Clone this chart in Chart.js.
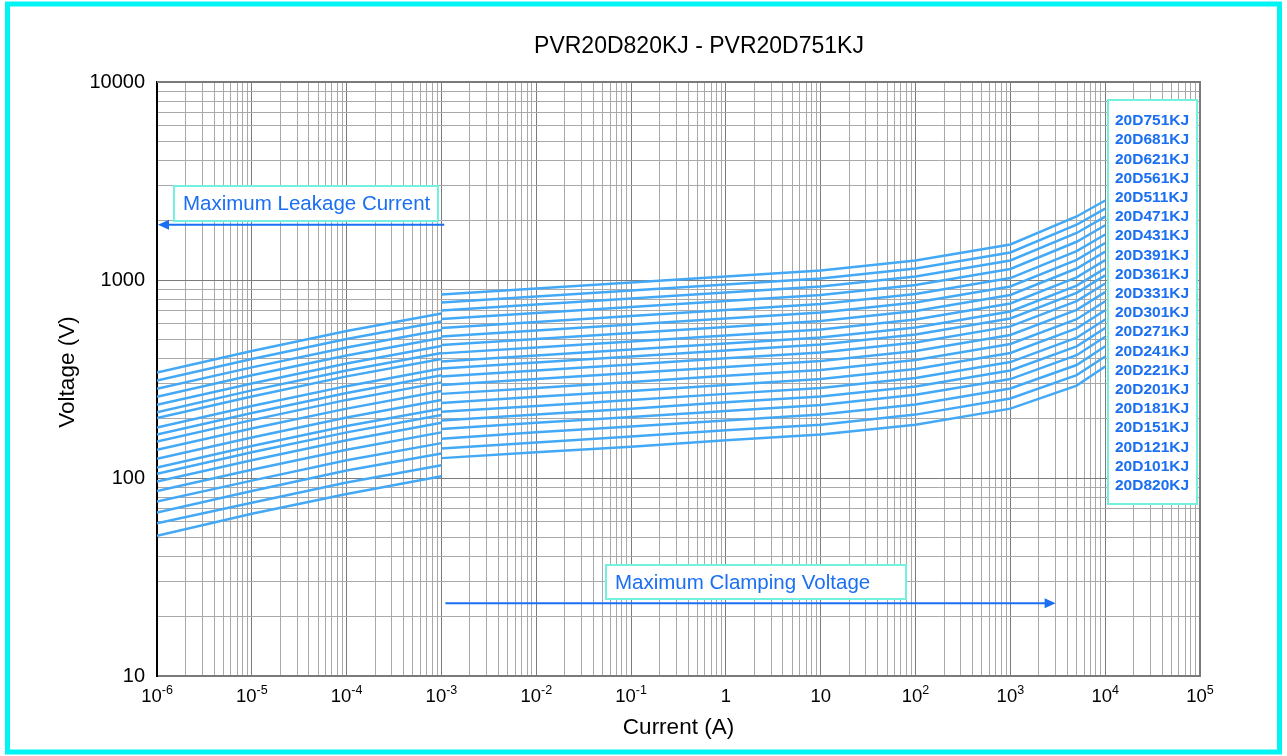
<!DOCTYPE html>
<html>
<head>
<meta charset="utf-8">
<title>PVR20D820KJ - PVR20D751KJ</title>
<script src="https://cdn.jsdelivr.net/npm/chart.js@4.4.1/dist/chart.umd.min.js"></script>
<style>
  html, body { margin: 0; padding: 0; background: #fff; }
  #wrap { position: relative; width: 1287px; height: 756px; }
</style>
</head>
<body>
<div id="wrap"><canvas id="vchart" width="1287" height="756"></canvas></div>
<script>
const FONT = "'Liberation Sans', Arial, Helvetica, sans-serif";

// device names, top curve first
const seriesNames = [
  "20D751KJ", "20D681KJ", "20D621KJ", "20D561KJ", "20D511KJ",
  "20D471KJ", "20D431KJ", "20D391KJ", "20D361KJ", "20D331KJ",
  "20D301KJ", "20D271KJ", "20D241KJ", "20D221KJ", "20D201KJ",
  "20D181KJ", "20D151KJ", "20D121KJ", "20D101KJ", "20D820KJ"
];

// maximum leakage current region (A)
const leakCurrents = [1e-6, 1e-5, 1e-4, 1e-3];
// voltage (V) per device at leakCurrents
const leakVolts = [
  [341, 438, 553, 677],
  [311, 399, 503, 617],
  [282, 362, 456, 559],
  [257, 330, 416, 510],
  [234, 300, 379, 464],
  [215, 277, 349, 428],
  [201, 258, 326, 399],
  [180, 231, 291, 357],
  [166, 213, 269, 330],
  [153, 196, 248, 304],
  [139, 178, 224, 275],
  [125, 160, 202, 248],
  [113, 145, 183, 224],
  [105, 135, 170, 208],
  [96, 123, 155, 190],
  [86, 110, 139, 170],
  [76, 97, 123, 150],
  [67, 86, 109, 133],
  [59, 75, 95, 116],
  [51, 66, 83, 102]
];

// maximum clamping voltage region (A)
const clampCurrents = [1e-3, 1e-2, 1e-1, 1, 10, 100, 1000, 5000, 10000];
const clampVolts = [
  [845, 906, 971, 1042, 1117, 1254, 1511, 2093, 2520],
  [770, 826, 885, 949, 1018, 1143, 1377, 1902, 2294],
  [702, 752, 807, 865, 927, 1042, 1255, 1728, 2088],
  [636, 682, 731, 784, 840, 944, 1137, 1560, 1890],
  [572, 613, 658, 705, 756, 849, 1023, 1400, 1698],
  [518, 556, 596, 639, 685, 770, 927, 1265, 1537],
  [470, 504, 540, 579, 621, 698, 840, 1143, 1392],
  [426, 456, 489, 525, 562, 632, 761, 1032, 1259],
  [388, 416, 446, 478, 512, 576, 693, 937, 1145],
  [357, 383, 411, 441, 472, 531, 639, 861, 1055],
  [326, 349, 374, 402, 430, 484, 583, 782, 960],
  [295, 316, 339, 364, 390, 438, 528, 707, 869],
  [266, 285, 305, 328, 351, 394, 475, 634, 781],
  [239, 257, 275, 295, 316, 355, 428, 570, 703],
  [216, 231, 248, 266, 285, 320, 385, 511, 632],
  [195, 209, 224, 241, 258, 290, 349, 462, 572],
  [177, 190, 203, 218, 234, 263, 316, 417, 517],
  [158, 170, 182, 195, 209, 235, 283, 372, 463],
  [141, 151, 162, 174, 186, 209, 252, 331, 411],
  [126, 135, 144, 155, 166, 186, 224, 293, 366]
];

const xTickValues = [1e-6, 1e-5, 1e-4, 1e-3, 1e-2, 1e-1, 1, 10, 100, 1000, 10000, 100000];
// x labels are written as base + superscript exponent
const xTickBases = ["10", "10", "10", "10", "10", "10", "1", "10", "10", "10", "10", "10"];
const xTickExps = ["-6", "-5", "-4", "-3", "-2", "-1", "", "", "2", "3", "4", "5"];
const yTickValues = [10, 100, 1000, 10000];
const yTickLabels = ["10", "100", "1000", "10000"];

const LINE_COLOR = "#43a9f6";
const NOTE_BLUE = "#1a6ff2";
const BOX_CYAN = "#72f2de";

// decade ticks plus 2..9 minors, no 1.5 steps
function logTicks(majors) {
  const out = [];
  majors.forEach((v, i) => {
    out.push({ value: v, major: true });
    if (i < majors.length - 1) {
      for (let k = 2; k <= 9; k++) out.push({ value: k * v, major: false });
    }
  });
  return out;
}

function labelFor(value, values, labels) {
  for (let i = 0; i < values.length; i++) {
    if (Math.abs(Math.log10(value) - Math.log10(values[i])) < 1e-6) return labels[i];
  }
  return "";
}

const datasets = [];
seriesNames.forEach((name, i) => {
  datasets.push({
    label: name + " leakage",
    data: leakCurrents.map((c, j) => ({ x: c, y: leakVolts[i][j] })),
    borderColor: LINE_COLOR,
    borderWidth: 2.5,
    pointRadius: 0,
    tension: 0
  });
  datasets.push({
    label: name + " clamping",
    data: clampCurrents.map((c, j) => ({ x: c, y: clampVolts[i][j] })),
    borderColor: LINE_COLOR,
    borderWidth: 2.5,
    pointRadius: 0,
    tension: 0
  });
});

function arrow(ctx, x1, y, x2) {
  const dir = x2 > x1 ? 1 : -1;
  ctx.save();
  ctx.strokeStyle = NOTE_BLUE;
  ctx.fillStyle = NOTE_BLUE;
  ctx.lineWidth = 2;
  ctx.beginPath();
  ctx.moveTo(x1, y);
  ctx.lineTo(x2 - dir * 8, y);
  ctx.stroke();
  ctx.beginPath();
  ctx.moveTo(x2, y);
  ctx.lineTo(x2 - dir * 11, y - 5);
  ctx.lineTo(x2 - dir * 11, y + 5);
  ctx.closePath();
  ctx.fill();
  ctx.restore();
}

function noteBox(ctx, x, y, w, h, text) {
  ctx.save();
  ctx.fillStyle = "#fff";
  ctx.fillRect(x, y, w, h);
  ctx.strokeStyle = BOX_CYAN;
  ctx.lineWidth = 2;
  ctx.strokeRect(x, y, w, h);
  ctx.fillStyle = NOTE_BLUE;
  ctx.font = "20.5px " + FONT;
  ctx.textBaseline = "middle";
  ctx.textAlign = "left";
  ctx.fillText(text, x + 9, y + h / 2 + 1);
  ctx.restore();
}

const decorPlugin = {
  id: "decor",
  beforeDraw(chart) {
    const ctx = chart.ctx;
    ctx.save();
    ctx.fillStyle = "#fff";
    ctx.fillRect(0, 0, chart.width, chart.height);
    ctx.strokeStyle = "#00f4f4";
    ctx.lineWidth = 5;
    ctx.strokeRect(7.5, 4, 1272, 748);
    ctx.restore();
  },
  afterDraw(chart) {
    const ctx = chart.ctx;
    const ca = chart.chartArea;
    const xs = chart.scales.x;
    const ys = chart.scales.y;

    // top and right frame of the plot
    ctx.save();
    ctx.strokeStyle = "#7a7a7a";
    ctx.lineWidth = 2;
    ctx.beginPath();
    ctx.moveTo(ca.left, ca.top);
    ctx.lineTo(ca.right, ca.top);
    ctx.lineTo(ca.right, ca.bottom);
    ctx.stroke();
    ctx.restore();

    // chart title
    ctx.save();
    ctx.fillStyle = "#000";
    ctx.font = "23px " + FONT;
    ctx.textAlign = "center";
    ctx.textBaseline = "middle";
    ctx.fillText("PVR20D820KJ - PVR20D751KJ", 699, 47);

    // y axis title
    ctx.save();
    ctx.translate(68, 372);
    ctx.rotate(-Math.PI / 2);
    ctx.font = "22.5px " + FONT;
    ctx.fillText("Voltage (V)", 0, 0);
    ctx.restore();

    // x tick labels with superscript exponents
    ctx.textAlign = "left";
    ctx.textBaseline = "alphabetic";
    xTickValues.forEach((v, i) => {
      const px = xs.getPixelForValue(v);
      ctx.font = "18.5px " + FONT;
      const wb = ctx.measureText(xTickBases[i]).width;
      ctx.font = "12.5px " + FONT;
      const we = xTickExps[i] ? ctx.measureText(xTickExps[i]).width : 0;
      const start = px - (wb + we) / 2;
      ctx.font = "18.5px " + FONT;
      ctx.fillText(xTickBases[i], start, ca.bottom + 25.5);
      if (xTickExps[i]) {
        ctx.font = "12.5px " + FONT;
        ctx.fillText(xTickExps[i], start + wb, ca.bottom + 17.5);
      }
    });
    ctx.restore();

    // device legend box
    const lx = ca.right - 92, ly = ca.top + 18, lw = 89, lh = 404;
    ctx.save();
    ctx.fillStyle = "#fff";
    ctx.fillRect(lx, ly, lw, lh);
    ctx.strokeStyle = BOX_CYAN;
    ctx.lineWidth = 2;
    ctx.strokeRect(lx, ly, lw, lh);
    ctx.fillStyle = NOTE_BLUE;
    ctx.font = "bold 15.5px " + FONT;
    ctx.textAlign = "left";
    ctx.textBaseline = "middle";
    seriesNames.forEach((n, i) => {
      ctx.fillText(n, lx + 7, ly + 21 + i * 19.2);
    });
    ctx.restore();

    // annotations
    noteBox(ctx, 174, 186, 264, 35, "Maximum Leakage Current");
    arrow(ctx, xs.getPixelForValue(1.07e-3), ys.getPixelForValue(1900), ca.left + 1);
    noteBox(ctx, 606, 565, 300, 34, "Maximum Clamping Voltage");
    arrow(ctx, xs.getPixelForValue(1.1e-3), ys.getPixelForValue(23.3), xs.getPixelForValue(3000));
  }
};

const gridColor = (c) => (c.tick && c.tick.major ? "#7c7c7c" : "#a9a9a9");

new Chart(document.getElementById("vchart"), {
  type: "line",
  data: { datasets: datasets },
  options: {
    responsive: false,
    animation: false,
    layout: { padding: { left: 0, right: 87, top: 82, bottom: 0 } },
    plugins: {
      legend: { display: false },
      tooltip: { enabled: false },
      title: { display: false }
    },
    scales: {
      x: {
        type: "logarithmic",
        min: 1e-6,
        max: 1e5,
        afterBuildTicks: (scale) => { scale.ticks = logTicks(xTickValues); },
        afterFit: (scale) => { scale.height = 80; },
        ticks: {
          autoSkip: false,
          maxRotation: 0,
          padding: 7,
          font: { family: FONT, size: 18.5 },
          callback: () => ""
        },
        grid: { color: gridColor, lineWidth: 1, drawTicks: false },
        border: { display: true, color: "#7a7a7a", width: 2 },
        title: {
          display: true,
          text: "Current (A)",
          color: "#000",
          font: { family: FONT, size: 22.5 },
          padding: { top: 0, bottom: 14.5 }
        }
      },
      y: {
        type: "logarithmic",
        min: 10,
        max: 10000,
        afterBuildTicks: (scale) => { scale.ticks = logTicks(yTickValues); },
        afterFit: (scale) => { scale.width = 157; },
        ticks: {
          autoSkip: false,
          padding: 12,
          color: "#000",
          font: { family: FONT, size: 20 },
          callback: (v) => labelFor(v, yTickValues, yTickLabels)
        },
        grid: { color: gridColor, lineWidth: 1, drawTicks: false },
        border: { display: true, color: "#000", width: 2 },
        title: { display: false }
      }
    }
  },
  plugins: [decorPlugin]
});
</script>
</body>
</html>
